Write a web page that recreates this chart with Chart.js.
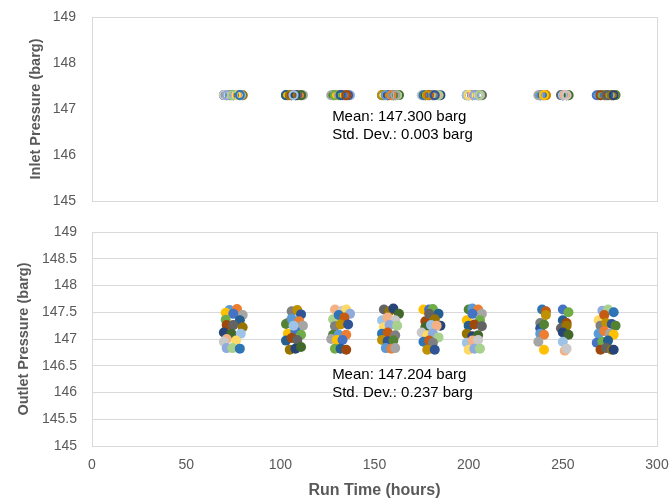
<!DOCTYPE html>
<html><head><meta charset="utf-8">
<script src="https://cdn.jsdelivr.net/npm/chart.js@4.4.1/dist/chart.umd.min.js"></script>
<style>
html,body{margin:0;padding:0;background:#fff;width:670px;height:500px;overflow:hidden}
#topChart{position:absolute;left:0;top:0}
#botChart{position:absolute;left:0;top:215px}
</style></head><body>
<canvas id="topChart" width="670" height="215"></canvas>
<canvas id="botChart" width="670" height="285"></canvas>
<script>
// Run time (hours) of each sample
const runTimeHours = [
  73,77,80,71,75,71,78.5,71.5,75,80,70,74,79,71.5,70,76.5,71.5,74.5,78.5,
  104,106,109,111,103,106,110,112,104,108,111,103,106,109,105,108,111,107,
  129,133,135,137,128,131,134,129,132,136,128,131,135,127,130,133,129,132,135,
  155,158,160,163,154,157,161,155,158,162,154,157,161,154,157,160,156,159,161,
  176,179,181,184,177,179,182,185,177,180,183,175,178,181,184,176,179,181,178,182,
  200,202,205,207,199,202,206,200,203,207,199,202,205,199,202,205,200,203,206,
  239,241,238,241,238,240,238,240,237,240,
  250,253,250,252,249,252,250,253,250,251,252,
  269,271,274,277,272,270,273,276,278,269,272,275,277,268,271,274,270,273,276,277
];
// Inlet pressure (barg)
const inletBarg = [
  147.300,147.302,147.298,147.301,147.299,147.303,147.300,147.297,147.301,147.300,147.302,147.299,147.298,147.300,147.303,147.301,147.299,147.300,147.302,
  147.301,147.299,147.300,147.302,147.298,147.300,147.303,147.301,147.299,147.300,147.297,147.302,147.300,147.301,147.299,147.300,147.298,147.301,
  147.300,147.298,147.302,147.300,147.301,147.299,147.300,147.303,147.298,147.300,147.301,147.302,147.299,147.300,147.297,147.301,147.300,147.302,147.299,
  147.299,147.301,147.300,147.302,147.298,147.300,147.301,147.299,147.303,147.300,147.298,147.301,147.300,147.302,147.299,147.300,147.301,147.297,147.300,
  147.302,147.300,147.298,147.301,147.299,147.300,147.303,147.301,147.298,147.300,147.302,147.299,147.300,147.301,147.297,147.300,147.302,147.299,147.301,147.300,
  147.300,147.301,147.299,147.302,147.300,147.298,147.301,147.300,147.303,147.299,147.300,147.302,147.298,147.301,147.300,147.299,147.302,147.300,147.301,
  147.301,147.299,147.300,147.302,147.298,147.300,147.301,147.299,147.300,147.302,
  147.299,147.301,147.300,147.298,147.302,147.300,147.301,147.299,147.300,147.303,147.300,
  147.300,147.302,147.299,147.301,147.300,147.298,147.301,147.300,147.302,147.299,147.300,147.301,147.297,147.300,147.302,147.299,147.301,147.300,147.298,147.301
];
// Outlet pressure (barg)
const outletBarg = [
  147.54,147.56,147.45,147.49,147.47,147.36,147.35,147.26,147.26,147.22,147.12,147.10,147.10,147.00,146.95,146.97,146.83,146.83,146.82,
  147.30,147.52,147.54,147.46,147.28,147.38,147.33,147.25,147.10,147.15,147.08,146.97,147.02,146.98,146.80,146.82,146.85,147.25,
  147.55,147.53,147.55,147.47,147.37,147.45,147.40,147.24,147.27,147.27,147.08,147.08,147.08,147.00,146.98,146.98,146.82,146.82,146.80,
  147.55,147.52,147.57,147.47,147.35,147.40,147.35,147.22,147.26,147.25,147.10,147.12,147.07,146.98,146.96,146.97,146.83,146.82,146.83,
  147.55,147.55,147.56,147.47,147.33,147.47,147.37,147.25,147.22,147.26,147.25,147.12,147.07,147.10,147.03,146.95,146.97,146.93,146.80,146.80,
  147.55,147.57,147.55,147.47,147.35,147.47,147.35,147.25,147.27,147.24,147.10,147.05,147.07,146.93,146.97,146.98,146.80,146.82,146.82,
  147.55,147.52,147.30,147.45,147.20,147.27,147.10,147.08,146.95,146.80,
  147.55,147.50,147.35,147.30,147.20,147.25,147.12,147.08,146.95,146.78,146.82,
  147.35,147.53,147.55,147.50,147.45,147.25,147.30,147.28,147.25,147.10,147.15,147.10,147.08,146.93,146.95,146.97,146.80,146.83,146.80,146.80
];
const inletNote = ["Mean: 147.300 barg", "Std. Dev.: 0.003 barg"];
const outletNote = ["Mean: 147.204 barg", "Std. Dev.: 0.237 barg"];

const palette = ['#5B9BD5','#ED7D31','#A5A5A5','#FFC000','#4472C4','#70AD47',
  '#255E91','#9E480E','#636363','#997300','#264478','#43682B',
  '#9DC3E6','#F4B183','#C9C9C9','#FFD966','#8FAADC','#A9D18E',
  '#2E75B6','#C55A11','#7F7F7F','#BF9000','#2F5597','#548235'];

const pts = (ys) => runTimeHours.map((x,i)=>({x, y: ys[i]}));
const colorAt = (c) => palette[c.dataIndex % palette.length];

const FONT = "'Liberation Sans', Arial, sans-serif";
const GRAY = '#595959';

const framePlugin = {
  id:'frame',
  beforeDatasetsDraw(chart){
    const {ctx, chartArea:a} = chart;
    ctx.save();
    ctx.strokeStyle='#d9d9d9'; ctx.lineWidth=1;
    ctx.strokeRect(Math.round(a.left)+0.5, Math.round(a.top)+0.5, Math.round(a.right-a.left), Math.round(a.bottom-a.top));
    ctx.restore();
  }
};
const notePlugin = {
  id:'note',
  afterDatasetsDraw(chart, args, o){
    const {ctx} = chart;
    ctx.save();
    ctx.fillStyle='#000'; ctx.font = "15px " + FONT;
    ctx.textAlign='left'; ctx.textBaseline='middle';
    const x = chart.scales.x.getPixelForValue(o.x);
    o.lines.forEach((t,i)=>{
      ctx.fillText(t, x, chart.scales.y.getPixelForValue(o.ys[i]));
    });
    ctx.restore();
  }
};
function fitY(s){ s.width = 92; s.paddingTop = 0; s.paddingBottom = 0; }
function fitX(s){ s.height = 54; s.paddingLeft = 0; s.paddingRight = 0; }

Chart.defaults.font.family = FONT;
Chart.defaults.animation = false;

new Chart(document.getElementById('topChart'), {
  type:'scatter',
  data:{datasets:[{
    data: pts(inletBarg),
    pointRadius:4, pointBorderWidth:2,
    pointBackgroundColor:'rgba(0,0,0,0)',
    pointBorderColor: colorAt,
    pointHoverRadius:4
  }]},
  options:{
    responsive:false, events:[],
    layout:{padding:{left:0,right:13,top:17,bottom:14}},
    plugins:{legend:{display:false}, tooltip:{enabled:false},
      note:{x:127.5, ys:[146.83,146.44], lines:inletNote}},
    scales:{
      x:{type:'linear', min:0, max:300, display:false},
      y:{min:145, max:149,
        ticks:{stepSize:1, color:GRAY, font:{size:14}, padding:16, callback:v=>String(v)},
        grid:{display:false, drawTicks:false, tickLength:0},
        border:{display:false},
        title:{display:true, text:'Inlet Pressure (barg)', color:GRAY, font:{size:14.5, weight:'bold'}, padding:{top:27,bottom:0}},
        afterFit: fitY
      }
    }
  },
  plugins:[framePlugin, notePlugin]
});

new Chart(document.getElementById('botChart'), {
  type:'scatter',
  data:{datasets:[{
    data: pts(outletBarg),
    pointRadius:5, pointBorderWidth:0,
    pointBackgroundColor: colorAt,
    pointBorderColor: colorAt,
    pointHoverRadius:5
  }]},
  options:{
    responsive:false, events:[],
    layout:{padding:{left:0,right:13,top:17,bottom:0}},
    plugins:{legend:{display:false}, tooltip:{enabled:false},
      note:{x:127.5, ys:[146.327,145.99], lines:outletNote}},
    scales:{
      x:{type:'linear', min:0, max:300,
        ticks:{stepSize:50, color:GRAY, font:{size:14}, padding:11, maxRotation:0},
        grid:{display:false, drawTicks:false, tickLength:0},
        border:{display:false},
        title:{display:true, text:'Run Time (hours)', color:GRAY, font:{size:16, weight:'bold'}, padding:{top:0,bottom:0}},
        afterFit: fitX
      },
      y:{min:145, max:149,
        ticks:{stepSize:0.5, color:GRAY, font:{size:14}, padding:15, callback:v=>String(v)},
        grid:{color:'#d9d9d9', drawTicks:false, tickLength:0},
        border:{display:false},
        title:{display:true, text:'Outlet Pressure (barg)', color:GRAY, font:{size:14.5, weight:'bold'}, padding:{top:15,bottom:0}},
        afterFit: fitY
      }
    }
  },
  plugins:[framePlugin, notePlugin]
});
</script>
</body></html>
